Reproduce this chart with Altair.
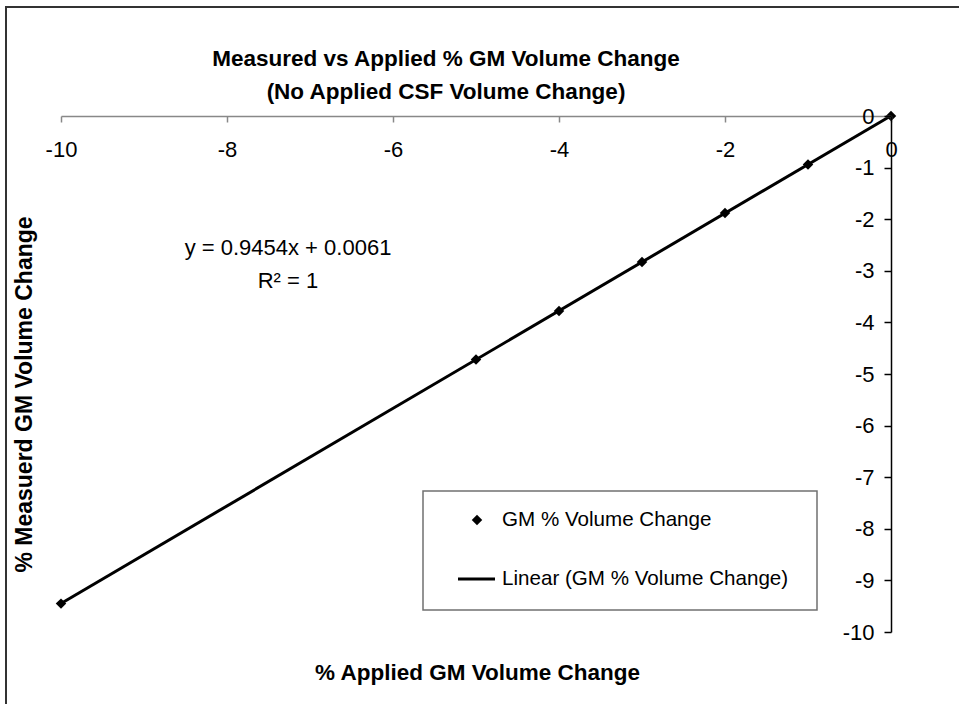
import altair as alt
import pandas as pd

# Applied vs measured % grey-matter volume change
applied = [-10, -5, -4, -3, -2, -1, 0]
measured = [-9.45, -4.72, -3.78, -2.83, -1.88, -0.94, 0.0]

# Linear trendline reported for the series
slope = 0.9454
intercept = 0.0061
r_squared = 1

title_lines = ["Measured vs Applied % GM Volume Change", "(No Applied CSF Volume Change)"]
x_title = "% Applied GM Volume Change"
y_title = "% Measuerd GM Volume Change"
legend_labels = ["GM % Volume Change", "Linear (GM % Volume Change)"]
x_ticks = [-10, -8, -6, -4, -2, 0]
y_ticks = [-10, -9, -8, -7, -6, -5, -4, -3, -2, -1, 0]

W, H = 830, 516
FONT = "Liberation Sans"
FRAME_TOP = -109  # outer border, relative to the plot's top edge

points = pd.DataFrame({"applied": applied, "measured": measured})
x_lo, x_hi = min(applied), max(applied)
trend = pd.DataFrame({
    "applied": [x_lo, x_hi],
    "measured": [slope * x_lo + intercept, slope * x_hi + intercept],
})
one = pd.DataFrame({"k": [0]})

x_scale = alt.Scale(domain=[-10, 0], nice=False, zero=False)
y_scale = alt.Scale(domain=[-10, 0], nice=False, zero=False)

# x axis sits on the y = 0 line at the top, labels hang below it
x_axis = alt.Axis(
    orient="bottom", offset=-H, values=x_ticks, grid=False, zindex=1,
    title=x_title, titleX=W / 2 + 1, titleY=563, titleAngle=0,
    titleAlign="center", titleBaseline="alphabetic",
    titleFont=FONT, titleFontSize=22.5, titleFontWeight="bold", titleColor="black",
    labelFont=FONT, labelFontSize=22, labelColor="black",
    labelBaseline="alphabetic", labelPadding=34,
    labelFlush=False, labelOverlap=False, labelExpr="datum.value + ''",
    domainColor="#888888", domainWidth=1.5,
    tickColor="#888888", tickWidth=1.5, tickSize=6,
)
# y axis sits on the x = 0 line at the right, labels to its left
y_axis = alt.Axis(
    orient="left", offset=-W, values=y_ticks, grid=False, zindex=1,
    title=y_title, titleX=-859.5, titleY=278, titleAngle=270,
    titleAlign="center", titleBaseline="alphabetic",
    titleFont=FONT, titleFontSize=23, titleFontWeight="bold", titleColor="black",
    labelFont=FONT, labelFontSize=22, labelColor="black",
    labelBaseline="middle", labelPadding=10,
    labelOverlap=False, labelExpr="datum.value + ''",
    domainColor="black", domainWidth=1.5,
    tickColor="black", tickWidth=1.5, tickSize=7,
)

enc_x = alt.X("applied:Q", scale=x_scale, axis=x_axis)
enc_y = alt.Y("measured:Q", scale=y_scale, axis=y_axis)

# outer chart border (right and bottom edges run past the canvas)
frame = alt.Chart(one).mark_rect(fillOpacity=0, stroke="#333333", strokeWidth=2).encode(
    x=alt.value(-55), x2=alt.value(W + 200), y=alt.value(FRAME_TOP), y2=alt.value(H + 200)
)

trend_line = alt.Chart(trend).mark_line(color="black", strokeWidth=3).encode(x=enc_x, y=enc_y)

markers = alt.Chart(points).mark_point(
    shape="diamond", filled=True, size=110, color="black", opacity=1
).encode(x=enc_x, y=enc_y)

eq_text = f"y = {slope:.4f}x + {intercept:.4f}"
r2_text = f"R\u00b2 = {r_squared}"
equation = alt.Chart(one).mark_text(
    text=eq_text, font=FONT, fontSize=22, color="black", align="center", baseline="alphabetic"
).encode(x=alt.value(227), y=alt.value(139))
r2 = alt.Chart(one).mark_text(
    text=r2_text, font=FONT, fontSize=22, color="black", align="center", baseline="alphabetic"
).encode(x=alt.value(227), y=alt.value(172))

# legend box
leg_box = alt.Chart(one).mark_rect(fill="white", stroke="#707070", strokeWidth=1.5).encode(
    x=alt.value(362), x2=alt.value(756), y=alt.value(375), y2=alt.value(494)
)
ROW0, ROW_STEP = 404, 59
leg_marker = alt.Chart(one).mark_point(
    shape="diamond", filled=True, size=110, color="black", opacity=1
).encode(x=alt.value(416), y=alt.value(ROW0))
leg_line = alt.Chart(one).mark_rule(color="black", strokeWidth=3).encode(
    x=alt.value(397), x2=alt.value(434), y=alt.value(ROW0 + ROW_STEP)
)
leg_texts = [
    alt.Chart(one).mark_text(
        text=lab, font=FONT, fontSize=20.6, color="black", align="left", baseline="middle"
    ).encode(x=alt.value(441), y=alt.value(ROW0 + i * ROW_STEP))
    for i, lab in enumerate(legend_labels)
]

# the title is placed from the top of everything drawn (the border), so
# the offset is measured back down from there
TITLE_BOTTOM = 10
chart = alt.layer(
    frame, trend_line, markers, equation, r2, leg_box, leg_marker, leg_line, *leg_texts
).properties(
    width=W,
    height=H,
    autosize=alt.AutoSizeParams(type="none"),
    padding={"left": 61, "top": 116, "right": 68, "bottom": 72},
    title=alt.TitleParams(
        text=title_lines, font=FONT, fontSize=22.5, fontWeight="bold", color="black",
        anchor="middle", frame="group", dx=-30,
        offset=(FRAME_TOP - 1) - TITLE_BOTTOM, lineHeight=33, baseline="bottom",
    ),
).configure(
    font=FONT,
    background="white",
    view=alt.ViewConfig(stroke=None),
)

chart.save("out.html", embed_options={"renderer": "svg", "actions": False})
